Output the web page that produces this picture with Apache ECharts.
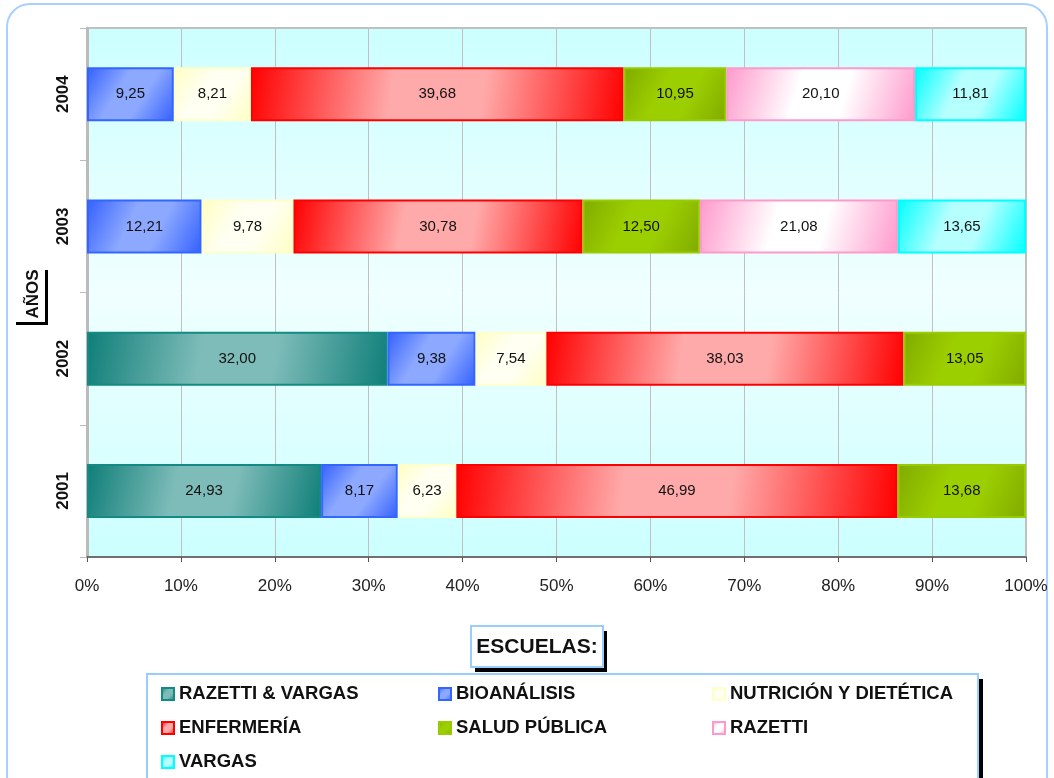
<!DOCTYPE html>
<html>
<head>
<meta charset="utf-8">
<script src="https://cdn.jsdelivr.net/npm/echarts@6/dist/echarts.min.js"></script>
<style>html,body{margin:0;padding:0;background:#fff}#c{width:1054px;height:778px}</style>
</head>
<body>
<div id="c"></div>
<script>
const years = ['2001', '2002', '2003', '2004'];
const xTicks = ['0%', '10%', '20%', '30%', '40%', '50%', '60%', '70%', '80%', '90%', '100%'];
const seriesNames = ['RAZETTI & VARGAS', 'BIOANÁLISIS', 'NUTRICIÓN Y DIETÉTICA', 'ENFERMERÍA', 'SALUD PÚBLICA', 'RAZETTI', 'VARGAS'];
const razettiVargas = [24.93, 32.00, null, null];
const bioanalisis = [8.17, 9.38, 12.21, 9.25];
const nutricion = [6.23, 7.54, 9.78, 8.21];
const enfermeria = [46.99, 38.03, 30.78, 39.68];
const saludPublica = [13.68, 13.05, 12.50, 10.95];
const razetti = [null, null, 21.08, 20.10];
const vargas = [null, null, 13.65, 11.81];

const values = [razettiVargas, bioanalisis, nutricion, enfermeria, saludPublica, razetti, vargas];
const styles = [
  { edge: '#0f7e78', mid: '#7ebcb9', border: '#138a84' },
  { edge: '#3360ff', mid: '#8ca8ff', border: '#3366ff' },
  { edge: '#ffffc2', mid: '#fffff2', border: '#ffffcc' },
  { edge: '#ff0000', mid: '#ffaaaa', border: '#ff0000' },
  { edge: '#80aa00', mid: '#9ccf00', border: '#99cc00' },
  { edge: '#ff99cc', mid: '#ffffff', border: '#ff99cc' },
  { edge: '#00ffff', mid: '#b5ffff', border: '#00ffff' }
];

function grad(s) {
  return new echarts.graphic.LinearGradient(0, 0, 1, 1, [
    { offset: 0, color: s.edge },
    { offset: 0.38, color: s.mid },
    { offset: 0.62, color: s.mid },
    { offset: 1, color: s.edge }
  ]);
}

const series = seriesNames.map((name, i) => ({
  name: name,
  type: 'bar',
  stack: 'total',
  barWidth: 54,
  data: values[i],
  itemStyle: { color: grad(styles[i]), borderColor: styles[i].border, borderWidth: 2 },
  label: {
    show: true,
    position: 'inside',
    color: '#111',
    fontFamily: 'Liberation Sans, Arial, sans-serif',
    fontSize: 15,
    formatter: p => (p.value == null ? '' : Number(p.value).toFixed(2).replace('.', ','))
  },
  emphasis: { disabled: true }
}));

// legend layout: column and row of each series entry
const legendCols = [161, 438, 712];
const legendRows = [684, 718, 752];
const legendPlace = [[0, 0], [1, 0], [2, 0], [0, 1], [1, 1], [2, 1], [0, 2]];
const legendText = { fontFamily: 'Liberation Sans, Arial, sans-serif', fontWeight: 'bold', fontSize: 18.5, lineHeight: 20, color: '#111' };
const legends = seriesNames.map((name, i) => ({
  orient: 'horizontal', left: legendCols[legendPlace[i][0]], top: legendRows[legendPlace[i][1]],
  padding: 0, data: [name], icon: 'rect', itemWidth: 12, itemHeight: 12,
  textStyle: legendText, selectedMode: false
}));

const chart = echarts.init(document.getElementById('c'));
chart.setOption({
  animation: false,
  backgroundColor: '#ffffff',
  grid: {
    left: 87, right: 28, top: 28, bottom: 221,
    show: true,
    borderColor: '#c0c0c0', borderWidth: 2,
    backgroundColor: new echarts.graphic.LinearGradient(0, 0, 0, 1, [
      { offset: 0, color: '#ccffff' },
      { offset: 0.5, color: '#f0ffff' },
      { offset: 1, color: '#ccffff' }
    ])
  },
  xAxis: {
    type: 'value', min: 0, max: 100, interval: 10,
    axisLine: { show: true, lineStyle: { color: '#555', width: 1.5 } },
    axisTick: { show: true, length: 5, lineStyle: { color: '#555' } },
    splitLine: { show: true, lineStyle: { color: '#c0c0c0', width: 1 } },
    axisLabel: {
      margin: 21, color: '#222', fontSize: 17, fontFamily: 'Liberation Sans, Arial, sans-serif',
      formatter: v => xTicks[Math.round(v / 10)]
    }
  },
  yAxis: {
    type: 'category', data: years,
    axisLine: { show: true, lineStyle: { color: '#bbbbbb', width: 3 } },
    axisTick: { show: true, length: 7, lineStyle: { color: '#bbbbbb' } },
    axisLabel: {
      rotate: 90, margin: 15, color: '#111', fontWeight: 'bold', fontSize: 17,
      fontFamily: 'Liberation Sans, Arial, sans-serif'
    }
  },
  legend: legends,
  graphic: [
    { type: 'rect', z: 0, shape: { x: 7, y: 4, width: 1040, height: 830, r: 23 }, style: { fill: 'none', stroke: '#a8d0ff', lineWidth: 2 } },
    { type: 'rect', z: 1, shape: { x: 45, y: 270, width: 3, height: 55 }, style: { fill: '#000' } },
    { type: 'rect', z: 1, shape: { x: 16, y: 322, width: 32, height: 3 }, style: { fill: '#000' } },
    { type: 'text', z: 2, x: 33, y: 294, rotation: Math.PI / 2,
      style: { text: 'AÑOS', fill: '#111', font: 'bold 17px "Liberation Sans", Arial, sans-serif', align: 'center', verticalAlign: 'middle' } },
    { type: 'rect', z: 1, shape: { x: 475, y: 631, width: 132, height: 41 }, style: { fill: '#000' } },
    { type: 'rect', z: 2, shape: { x: 471, y: 626, width: 132, height: 41 }, style: { fill: '#fff', stroke: '#99ccff', lineWidth: 2 } },
    { type: 'text', z: 3, x: 537, y: 647,
      style: { text: 'ESCUELAS:', fill: '#111', font: 'bold 21px "Liberation Sans", Arial, sans-serif', align: 'center', verticalAlign: 'middle' } },
    { type: 'rect', z: 1, shape: { x: 152, y: 679, width: 831, height: 130 }, style: { fill: '#000' } },
    { type: 'rect', z: 2, shape: { x: 147, y: 674, width: 831, height: 130 }, style: { fill: '#fff', stroke: '#99ccff', lineWidth: 2 } }
  ],
  series: series
});
</script>
</body>
</html>
